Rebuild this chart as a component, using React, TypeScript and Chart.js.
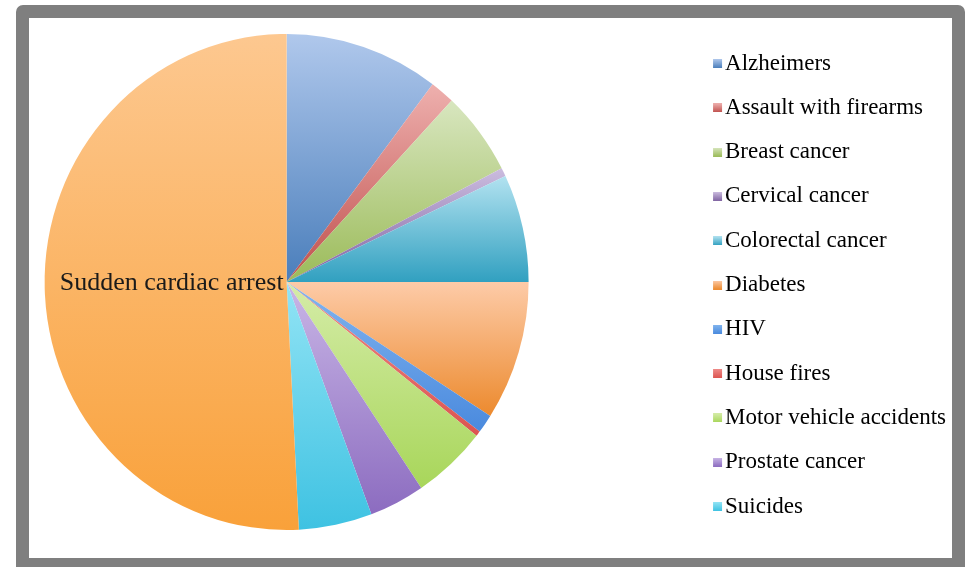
import { useEffect, useRef } from 'react';
import { Chart, registerables } from 'chart.js';

Chart.register(...registerables);

// ---- data ----
const categories = [
  'Alzheimers',
  'Assault with firearms',
  'Breast cancer',
  'Cervical cancer',
  'Colorectal cancer',
  'Diabetes',
  'HIV',
  'House fires',
  'Motor vehicle accidents',
  'Prostate cancer',
  'Suicides',
  'Sudden cardiac arrest',
];
const deaths = [74200, 11800, 39400, 4000, 50600, 65400, 8800, 2400, 35800, 26600, 35200, 365800];

// categories shown in the legend / labelled on the pie
const legendExcluded = ['Sudden cardiac arrest'];
const labelledSlices = ['Sudden cardiac arrest'];

// gradient colours (top -> bottom)
const lightColors = [
  '#b0c8ec', '#eeb0ae', '#d8e6bf', '#cbbcdf', '#b2e2f0', '#fdcba8',
  '#82b4ee', '#ee8a88', '#d5eca8', '#c9b6e6', '#93e4f5', '#fdc890',
];
const darkColors = [
  '#4a7ebb', '#c0504d', '#9bbb59', '#8064a2', '#31a0c0', '#ec8a2e',
  '#4a8ade', '#dc5450', '#a8d65a', '#8c6cc0', '#3ec2e2', '#f9a13a',
];

const PIE_RADIUS = 248;
const X_SCALE = 242 / 248;
const FONT = '"Liberation Serif", "Times New Roman", serif';

function sliceGradient(ctx: any) {
  const chart = ctx.chart;
  const i = ctx.dataIndex;
  const area = chart.chartArea;
  if (!area || i === undefined) return darkColors[i ?? 0];
  const cy = (area.top + area.bottom) / 2;
  const total = deaths.reduce((a, b) => a + b, 0);
  let start = -Math.PI / 2;
  for (let k = 0; k < i; k++) start += (deaths[k] / total) * Math.PI * 2;
  const end = start + (deaths[i] / total) * Math.PI * 2;
  const ys = [cy, cy + PIE_RADIUS * Math.sin(start), cy + PIE_RADIUS * Math.sin(end)];
  for (const a of [-Math.PI / 2, Math.PI / 2, (3 * Math.PI) / 2]) {
    if (a >= start - 1e-9 && a <= end + 1e-9) ys.push(cy + PIE_RADIUS * Math.sin(a));
  }
  const y0 = Math.min(...ys);
  const y1 = Math.max(...ys);
  const g = chart.ctx.createLinearGradient(0, y0, 0, y1 + 0.01);
  g.addColorStop(0, lightColors[i]);
  g.addColorStop(1, darkColors[i]);
  return g;
}

function legendSwatch(i: number) {
  const c = document.createElement('canvas');
  c.width = 20;
  c.height = 9;
  const g2 = c.getContext('2d')!;
  const g = g2.createLinearGradient(0, 0, 0, 9);
  g.addColorStop(0, lightColors[i]);
  g.addColorStop(1, darkColors[i]);
  g2.fillStyle = g;
  g2.fillRect(10, 0, 9, 9);
  return c;
}

const ellipsePlugin = {
  id: 'ellipsePie',
  beforeDatasetsDraw(chart: any) {
    const a = chart.chartArea;
    const cx = (a.left + a.right) / 2;
    const ctx = chart.ctx;
    ctx.save();
    ctx.translate(cx, 0);
    ctx.scale(X_SCALE, 1);
    ctx.translate(-cx, 0);
  },
  afterDatasetsDraw(chart: any) {
    const ctx = chart.ctx;
    ctx.restore();
    const meta = chart.getDatasetMeta(0);
    labelledSlices.forEach((name) => {
      const idx = categories.indexOf(name);
      const el = meta.data[idx];
      if (!el) return;
      ctx.save();
      ctx.font = `26px ${FONT}`;
      ctx.fillStyle = '#1a1a1a';
      ctx.textAlign = 'right';
      ctx.textBaseline = 'alphabetic';
      ctx.fillText(name, el.x - 3, el.y + 8);
      ctx.restore();
    });
  },
};

export default function App() {
  const ref = useRef<HTMLCanvasElement | null>(null);

  useEffect(() => {
    if (!ref.current) return;
    const chart = new Chart(ref.current, {
      type: 'pie',
      data: {
        labels: categories,
        datasets: [
          {
            data: deaths,
            backgroundColor: sliceGradient as any,
            borderWidth: 0,
            radius: PIE_RADIUS,
          } as any,
        ],
      },
      options: {
        responsive: false,
        animation: false,
        devicePixelRatio: 1,
        layout: { padding: { left: 0, right: 0, top: 0, bottom: 12 } },
        plugins: {
          tooltip: { enabled: false },
          legend: {
            position: 'right',
            onClick: () => {},
            title: {
              display: true,
              text: ' ',
              font: { size: 0 },
              padding: { top: 6, bottom: 0 },
            },
            labels: {
              usePointStyle: true,
              pointStyleWidth: 1,
              padding: 21.3,
              color: '#000000',
              font: { family: FONT, size: 23 },
              filter: (item: any) => !legendExcluded.includes(item.text),
              generateLabels: (chart: any) => {
                const base = (Chart as any).overrides.pie.plugins.legend.labels.generateLabels(chart);
                return base.map((l: any) => ({ ...l, pointStyle: legendSwatch(l.index) }));
              },
            },
          },
        },
      } as any,
      plugins: [ellipsePlugin],
    });
    return () => chart.destroy();
  }, []);

  return (
    <div
      style={{
        position: 'absolute',
        left: 16,
        top: 5,
        width: 949,
        height: 562,
        boxSizing: 'border-box',
        borderStyle: 'solid',
        borderColor: '#7f7f7f',
        borderWidth: '13px 13px 9px 13px',
        borderRadius: '7px 7px 0 0',
        background: '#ffffff',
      }}
    >
      <div
        style={{
          position: 'relative',
          width: 923,
          height: 540,
          overflow: 'hidden',
          background: '#ffffff',
        }}
      >
        <canvas
          ref={ref}
          width={1074}
          height={540}
          style={{ position: 'absolute', left: -147, top: 0, width: 1074, height: 540 }}
        />
      </div>
    </div>
  );
}
